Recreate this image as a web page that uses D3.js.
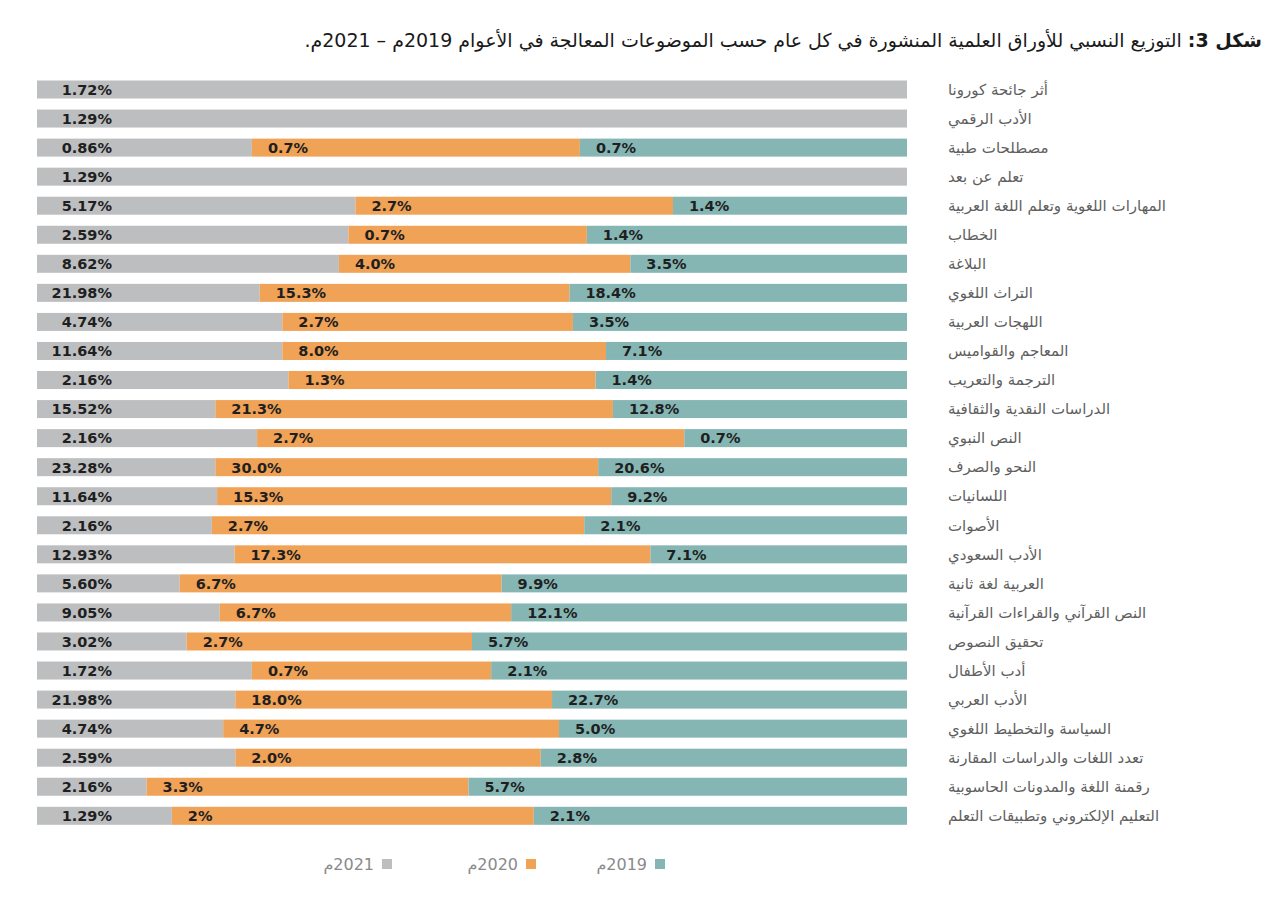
<!DOCTYPE html>
<html><head><meta charset="utf-8">
<script src="https://cdn.jsdelivr.net/npm/d3@7"></script>
<style>
html,body{margin:0;padding:0;background:#fff;}
svg{display:block;}
</style></head>
<body>
<svg id="chart" width="1280" height="904"></svg>
<script>
// ---- data ----
const categories = [
  "أثر جائحة كورونا","الأدب الرقمي","مصطلحات طبية","تعلم عن بعد",
  "المهارات اللغوية وتعلم اللغة العربية","الخطاب","البلاغة","التراث اللغوي",
  "اللهجات العربية","المعاجم والقواميس","الترجمة والتعريب","الدراسات النقدية والثقافية",
  "النص النبوي","النحو والصرف","اللسانيات","الأصوات","الأدب السعودي",
  "العربية لغة ثانية","النص القرآني والقراءات القرآنية","تحقيق النصوص","أدب الأطفال",
  "الأدب العربي","السياسة والتخطيط اللغوي","تعدد اللغات والدراسات المقارنة",
  "رقمنة اللغة والمدونات الحاسوبية","التعليم الإلكتروني وتطبيقات التعلم"
];
// printed percentage labels
const label2021 = ["1.72","1.29","0.86","1.29","5.17","2.59","8.62","21.98","4.74","11.64","2.16","15.52","2.16","23.28","11.64","2.16","12.93","5.60","9.05","3.02","1.72","21.98","4.74","2.59","2.16","1.29"];
const label2020 = [null,null,"0.7",null,"2.7","0.7","4.0","15.3","2.7","8.0","1.3","21.3","2.7","30.0","15.3","2.7","17.3","6.7","6.7","2.7","0.7","18.0","4.7","2.0","3.3","2"];
const label2019 = [null,null,"0.7",null,"1.4","1.4","3.5","18.4","3.5","7.1","1.4","12.8","0.7","20.6","9.2","2.1","7.1","9.9","12.1","5.7","2.1","22.7","5.0","2.8","5.7","2.1"];
// segment shares of each 100% bar as drawn in the picture
const share2021 = [100,100,24.7,100,36.6,35.8,34.7,25.6,28.2,28.2,28.9,20.5,25.3,20.5,20.7,20.1,22.7,16.4,21.0,17.2,24.7,22.8,21.4,22.8,12.6,15.5];
const share2020 = [0,0,37.7,0,36.5,27.4,33.5,35.6,33.4,37.2,35.3,45.7,49.1,44.0,45.3,42.8,47.8,37.0,33.5,32.8,27.5,36.4,38.6,35.1,37.0,41.6];
const share2019 = [0,0,37.6,0,26.9,36.8,31.8,38.8,38.4,34.6,35.8,33.8,25.6,35.5,34.0,37.1,29.5,46.6,45.5,50.0,47.8,40.8,40.0,42.1,50.4,42.9];
const seriesKeys = ["y2021","y2020","y2019"];
const legendLabels = ["2019م","2020م","2021م"];
const colors = {y2021:"#bdbec0", y2020:"#f0a256", y2019:"#85b6b4"};
const labelArrays = {y2021:label2021, y2020:label2020, y2019:label2019};

// ---- build ----
const rows = categories.map((c,i)=>({cat:c, y2021:share2021[i], y2020:share2020[i], y2019:share2019[i], i}));
const svg = d3.select("#chart");
svg.append("rect").attr("width",1280).attr("height",904).attr("fill","#fff");

const x = d3.scaleLinear().domain([0,100]).range([37,907]);
const y = d3.scalePoint().domain(categories).range([89.5,815.8]);
const barH = 18;

const stack = d3.stack().keys(seriesKeys)(rows);

const g = svg.append("g");
stack.forEach(layer=>{
  const key = layer.key;
  g.selectAll(null).data(layer.filter(d=>d[1]-d[0]>0)).join("rect")
    .attr("x", d=>x(d[0]))
    .attr("width", d=>x(d[1])-x(d[0]))
    .attr("y", d=>y(d.data.cat)-barH/2)
    .attr("height", barH)
    .attr("fill", colors[key]);
});

// value labels
const lblFont = "'DejaVu Sans', Verdana, sans-serif";
stack.forEach(layer=>{
  const key = layer.key;
  const arr = labelArrays[key];
  const sel = g.selectAll(null).data(layer.filter(d=>arr[d.data.i]!=null)).join("text")
    .attr("y", d=>y(d.data.cat))
    .attr("dy","0.37em")
    .attr("font-family", lblFont)
    .attr("font-weight","bold")
    .attr("font-size", 14.5)
    .attr("fill","#1f1f1f")
    .text(d=>arr[d.data.i]+"%");
  if(key==="y2021"){
    sel.attr("x", x(0)+75).attr("text-anchor","end");
  } else {
    sel.attr("x", d=>x(d[0])+16).attr("text-anchor","start");
  }
});

// category labels
svg.append("g").selectAll("text").data(categories).join("text")
  .attr("x", 948)
  .attr("y", d=>y(d))
  .attr("dy","0.35em")
  .attr("text-anchor","start")
  .attr("font-family","'DejaVu Sans', sans-serif")
  .attr("font-size", 15)
  .attr("fill","#5f5f5f")
  .text(d=>d);

// title
const title = svg.append("text")
  .attr("x", 1262).attr("y", 47)
  .attr("direction","rtl")
  .attr("text-anchor","start")
  .attr("font-family","'DejaVu Sans', sans-serif")
  .attr("font-size", 19)
  .attr("fill","#1a1a1a");
title.append("tspan").attr("font-weight","bold").text("شكل 3:");
title.append("tspan").text(" التوزيع النسبي للأوراق العلمية المنشورة في كل عام حسب الموضوعات المعالجة في الأعوام 2019م – 2021م.");

// legend
const legendKeys = ["y2019","y2020","y2021"];
const legendRight = [665,536,392];
const lg = svg.append("g");
legendKeys.forEach((k,i)=>{
  lg.append("rect").attr("x",legendRight[i]-10).attr("y",859).attr("width",10).attr("height",10).attr("fill",colors[k]);
  lg.append("text").attr("x",legendRight[i]-18).attr("y",864).attr("dy","0.35em")
    .attr("direction","rtl").attr("text-anchor","start")
    .attr("font-family","'DejaVu Sans', sans-serif").attr("font-size",16).attr("fill","#8a8a8a")
    .text(legendLabels[i]);
});
</script>
</body></html>
